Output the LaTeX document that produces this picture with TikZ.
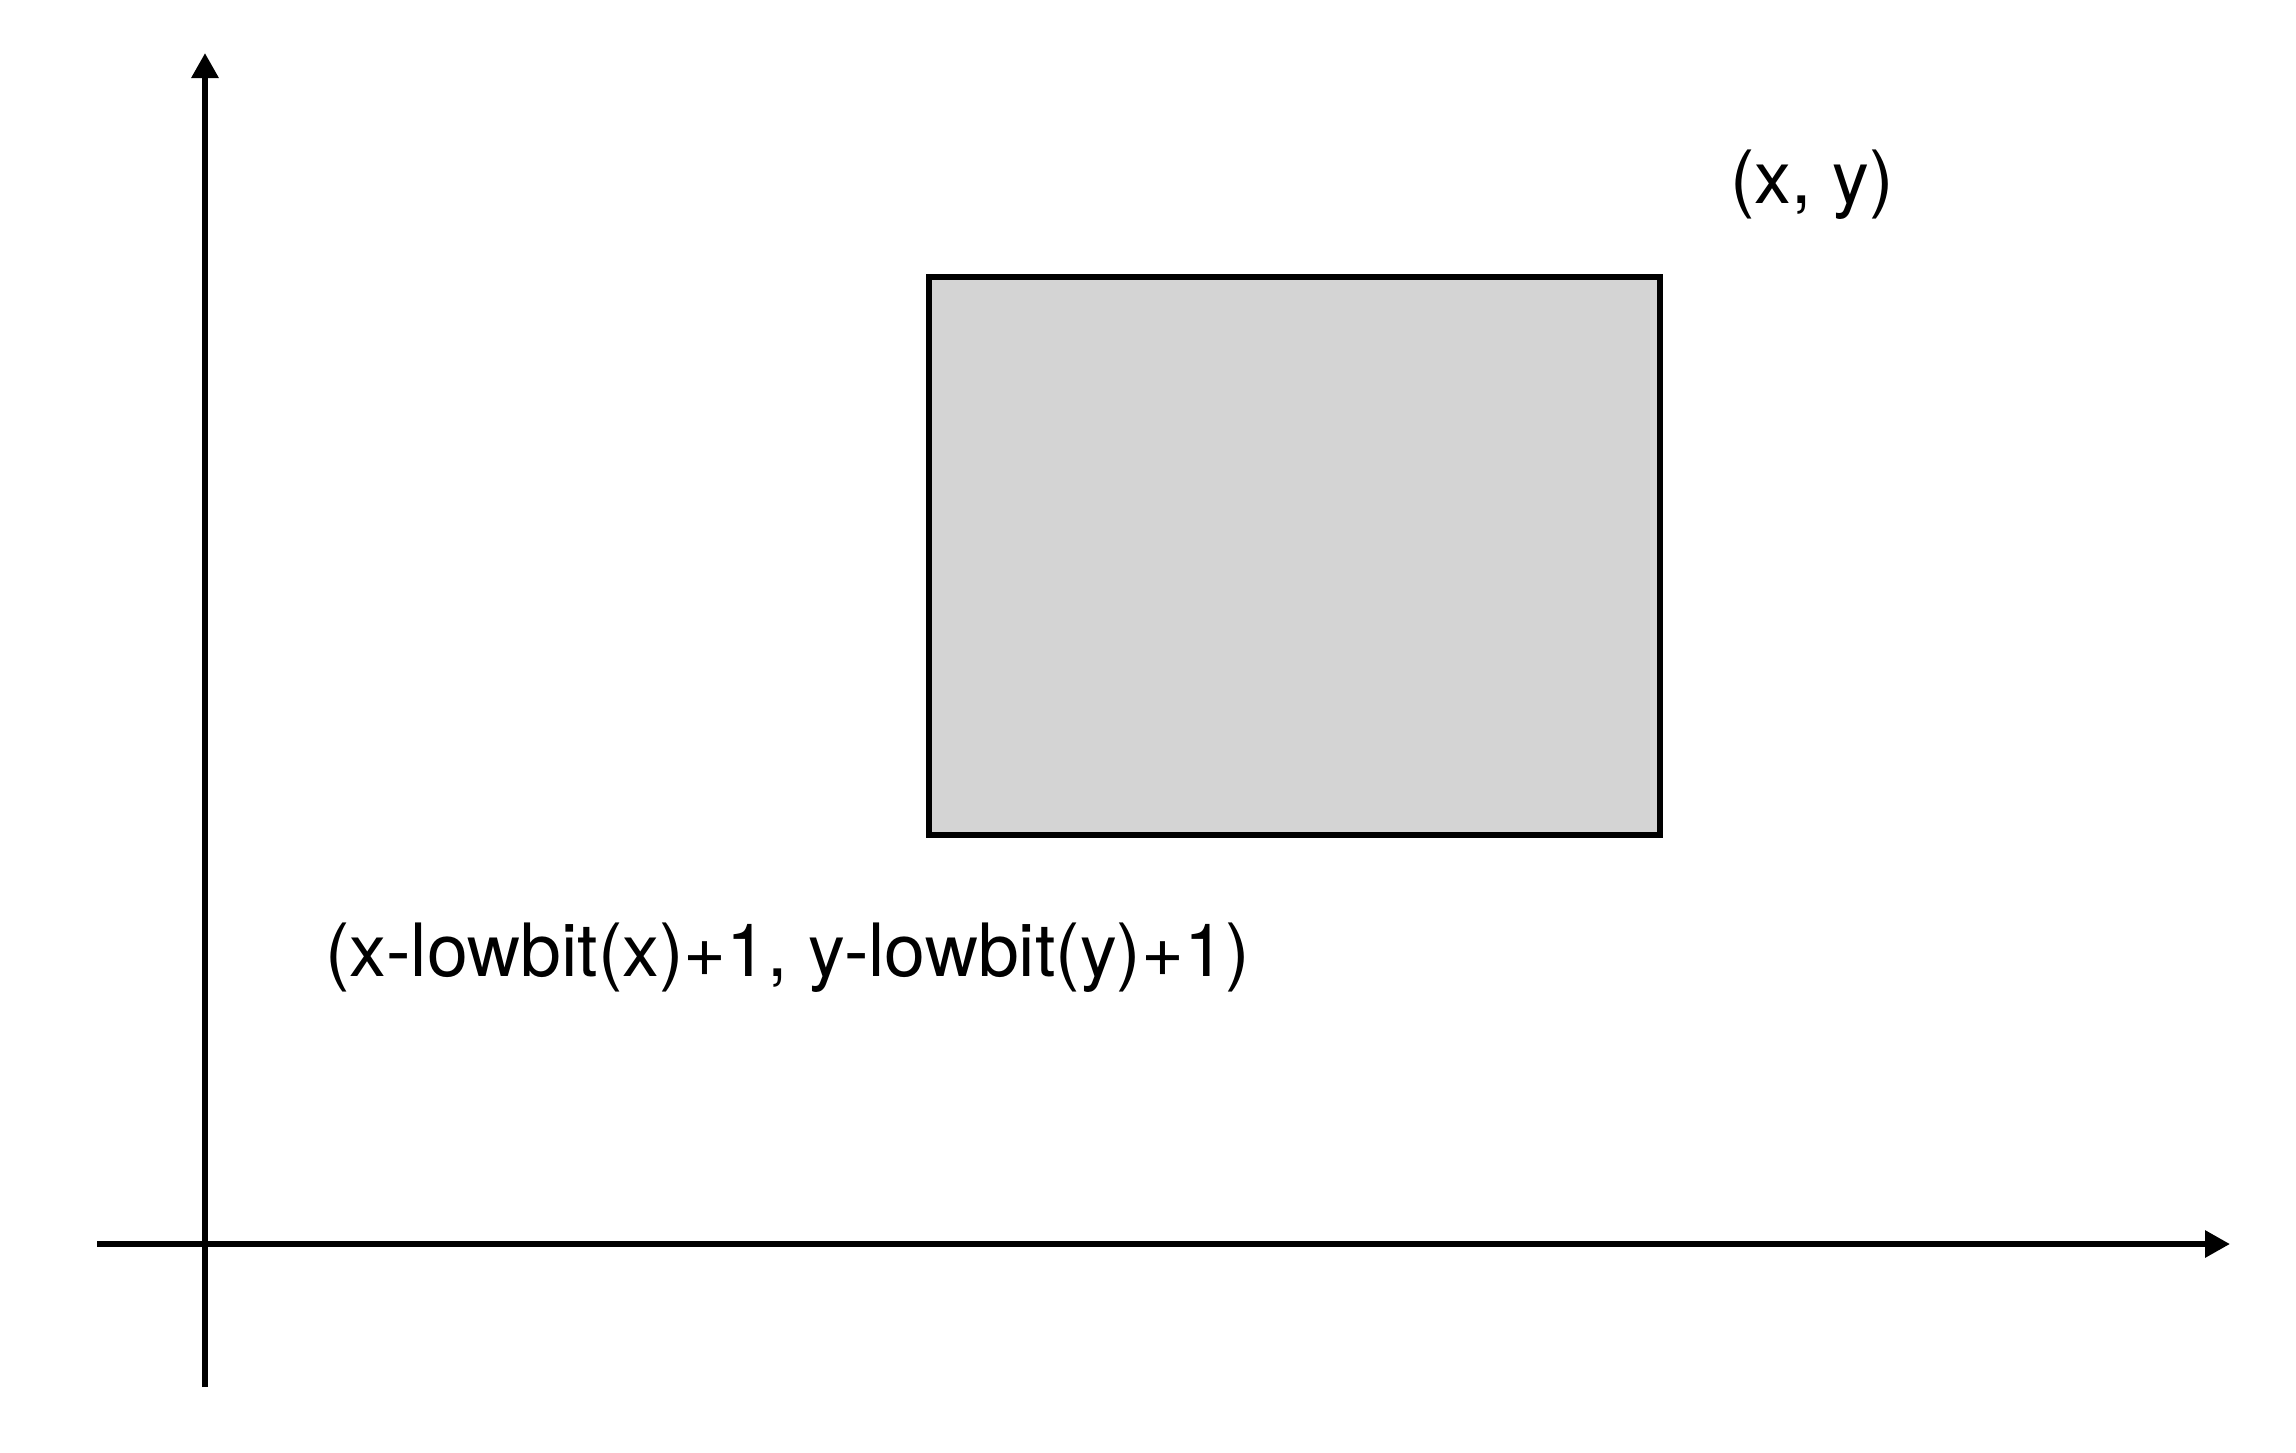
\documentclass[tikz,border=0pt]{standalone}
\usepackage{fontspec}
\setmainfont{TeX Gyre Heros}
\usetikzlibrary{arrows.meta}
\definecolor{boxgray}{RGB}{212,212,212}
\tikzset{
  axis/.style={line width=6pt,-{Triangle[length=25pt,width=26pt]}},
  plainaxis/.style={line width=6pt},
  regionbox/.style={draw=black,line width=6pt,fill=boxgray,inner sep=0pt,outer sep=0pt,minimum width=731pt,minimum height=558pt},
  label/.style={inner sep=0pt,font=\fontsize{73.5}{88}\selectfont}
}
\begin{document}
\begin{tikzpicture}[x=1pt,y=-1pt]
\useasboundingbox[fill=white] (0,0) rectangle (2296,1452);
\coordinate (ybot) at (205,1387);
\coordinate (ytop) at (205,53);
\coordinate (xleft) at (97,1244);
\coordinate (xright) at (2230,1244);
\draw[axis] (ybot) -- (ytop);
\draw[axis] (xleft) -- (xright);
\node[regionbox] (rect) at (1294.5,556) {};
\node[label,anchor=base west] (topright) at (1730,203) {(x, y)};
\node[label,anchor=base west] (bottomleft) at (325,976) {(x-lowbit(x)+1, y-lowbit(y)+1)};
\end{tikzpicture}
\end{document}
